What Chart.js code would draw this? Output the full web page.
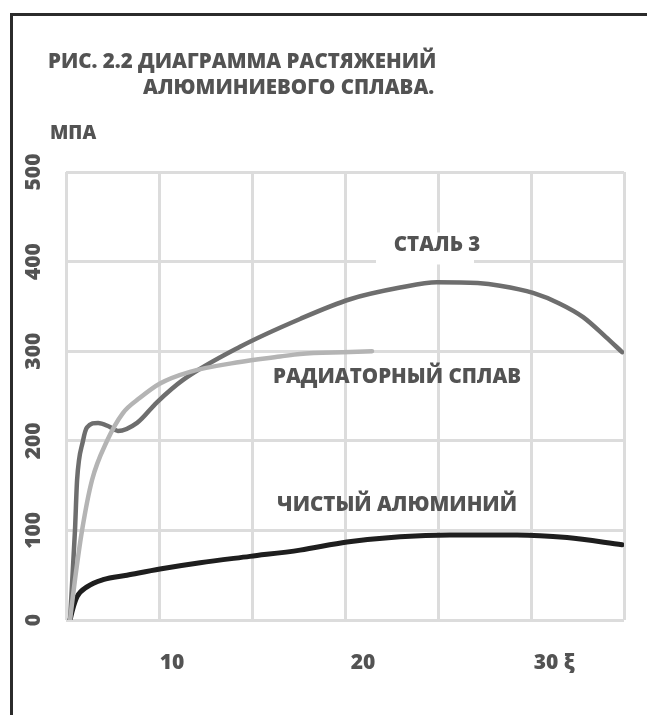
<!DOCTYPE html>
<html>
<head>
<meta charset="utf-8">
<script src="https://cdn.jsdelivr.net/npm/chart.js@4.4.1/dist/chart.umd.min.js"></script>
<style>
    html, body { margin: 0; padding: 0; background: #fff; }
    #wrap { width: 647px; height: 715px; position: relative; }
</style>
</head>
<body>
<div id="wrap"><canvas id="stressChart"></canvas></div>
<script>
// Strain (x) / stress, MPa (y)
const steelX = [4.66, 4.92, 5.03, 5.34, 5.55, 6.13, 6.7, 7.17, 8.17, 9.21, 10.58, 13.56, 16.70, 19.32, 21.94, 23.87, 26.0, 27.17, 28.90, 30.3, 31.52, 32.7, 33.56];
const steelY = [0, 100, 156, 200, 215, 220, 216, 211, 220, 243, 268, 305, 336, 358, 371, 377, 376, 373, 365, 353, 338, 316, 299];

const radiatorX = [4.66, 4.92, 5.29, 5.81, 6.60, 7.43, 8.32, 9.37, 10.94, 13.56, 15.65, 16.70, 19.32, 20.47];
const radiatorY = [0, 45, 100, 156, 200, 231, 248, 264, 277, 288, 294, 297, 299, 300];

const pureAlX = [4.66, 4.8, 5.03, 5.55, 6.39, 7.64, 9.37, 11.47, 14.08, 16.70, 19.16, 21.94, 24.55, 28.06, 30.68, 33.56];
const pureAlY = [0, 12, 26, 37, 45, 50, 57, 64, 71, 78, 87, 93, 95, 95, 92, 84];

const xTicks = [10, 20, 30];
const xTickLabels = ['10', '20', '30 ξ'];
const yTicks = [0, 100, 200, 300, 400, 500];

const titleLines = ['РИС. 2.2 ДИАГРАММА РАСТЯЖЕНИЙ', 'АЛЮМИНИЕВОГО СПЛАВА.'];
const yUnit = 'МПА';
const seriesNames = ['СТАЛЬ 3', 'РАДИАТОРНЫЙ СПЛАВ', 'ЧИСТЫЙ АЛЮМИНИЙ'];
// where each curve name sits, in data units
const namePosX = [23.87, 21.78, 21.78];
const namePosY = [418, 271, 128];

const textColor = '#535353';
const gridColor = '#dcdcdc';
const FONT = '"Open Sans", sans-serif';
const WEIGHT = '800';

function toPoints(xs, ys) {
    return xs.map((x, i) => ({ x: x, y: ys[i] }));
}

const decorPlugin = {
    id: 'decor',
    afterDatasetsDraw(chart) {
        const ctx = chart.ctx;
        const xs = chart.scales.x;
        const ys = chart.scales.y;
        ctx.save();

        // white patch behind the steel caption
        const sx = xs.getPixelForValue(namePosX[0]);
        const sy = ys.getPixelForValue(namePosY[0]);
        ctx.fillStyle = '#ffffff';
        ctx.fillRect(sx - 61, sy - 13, 98, 32);

        ctx.fillStyle = textColor;
        ctx.font = WEIGHT + ' 20.5px ' + FONT;
        ctx.textAlign = 'center';
        ctx.textBaseline = 'middle';
        seriesNames.forEach((name, i) => {
            ctx.fillText(name, xs.getPixelForValue(namePosX[i]), ys.getPixelForValue(namePosY[i]));
        });

        // title and unit
        ctx.textAlign = 'left';
        ctx.font = WEIGHT + ' 20.5px ' + FONT;
        ctx.fillText(titleLines[0], 48, 62);
        ctx.fillText(titleLines[1], 143, 88);
        ctx.font = WEIGHT + ' 19px ' + FONT;
        ctx.fillText(yUnit, 50, 134);

        // frame
        ctx.strokeStyle = '#2b2b2b';
        ctx.lineWidth = 3;
        ctx.beginPath();
        ctx.moveTo(11.5, 715);
        ctx.lineTo(11.5, 14.5);
        ctx.lineTo(647, 14.5);
        ctx.stroke();
        ctx.restore();
    }
};

const ctx = document.getElementById('stressChart').getContext('2d');
const stressChart = new Chart(ctx, {
    type: 'line',
    data: {
        datasets: [
            {
                label: seriesNames[1],
                data: toPoints(radiatorX, radiatorY),
                xAxisID: 'x',
                yAxisID: 'y',
                borderColor: '#b4b4b4',
                borderWidth: 4.5
            },
            {
                label: seriesNames[0],
                data: toPoints(steelX, steelY),
                xAxisID: 'x',
                yAxisID: 'y',
                borderColor: '#6e6e6e',
                borderWidth: 4.5
            },
            {
                label: seriesNames[2],
                data: toPoints(pureAlX, pureAlY),
                xAxisID: 'x',
                yAxisID: 'y',
                borderColor: '#1e1e1e',
                borderWidth: 5
            }
        ]
    },
    options: {
        responsive: true,
        maintainAspectRatio: false,
        animation: false,
        events: [],
        datasets: {
            line: {
                pointRadius: 0,
                cubicInterpolationMode: 'monotone',
                borderCapStyle: 'round',
                borderJoinStyle: 'round',
                fill: false
            }
        },
        layout: {
            padding: { top: 172, right: 23, left: 0, bottom: 0 }
        },
        plugins: {
            legend: { display: false },
            tooltip: { enabled: false }
        },
        scales: {
            xGrid: {
                type: 'linear',
                position: 'bottom',
                min: 0,
                max: 30,
                ticks: { stepSize: 5, display: false },
                grid: { color: gridColor, lineWidth: 3, drawTicks: false },
                border: { display: false },
                afterFit(scale) { scale.height = 0; }
            },
            x: {
                type: 'linear',
                position: 'bottom',
                min: 4.45,
                max: 33.66,
                grid: { display: false },
                border: { display: false },
                afterBuildTicks(scale) {
                    scale.ticks = xTicks.map(v => ({ value: v }));
                },
                ticks: {
                    padding: 22,
                    color: textColor,
                    font: { family: FONT, size: 21, weight: WEIGHT },
                    maxRotation: 0,
                    callback: (value) => xTickLabels[xTicks.indexOf(value)]
                },
                afterFit(scale) { scale.height = 95; }
            },
            y: {
                min: 0,
                max: 500,
                afterBuildTicks(scale) {
                    scale.ticks = yTicks.map(v => ({ value: v }));
                },
                ticks: {
                    minRotation: 90,
                    maxRotation: 90,
                    crossAlign: 'center',
                    padding: 14,
                    color: textColor,
                    font: { family: FONT, size: 21, weight: WEIGHT }
                },
                grid: { color: gridColor, lineWidth: 3, drawTicks: false },
                border: { display: false },
                afterFit(scale) { scale.width = 66; }
            }
        }
    },
    plugins: [decorPlugin]
});
</script>
</body>
</html>
